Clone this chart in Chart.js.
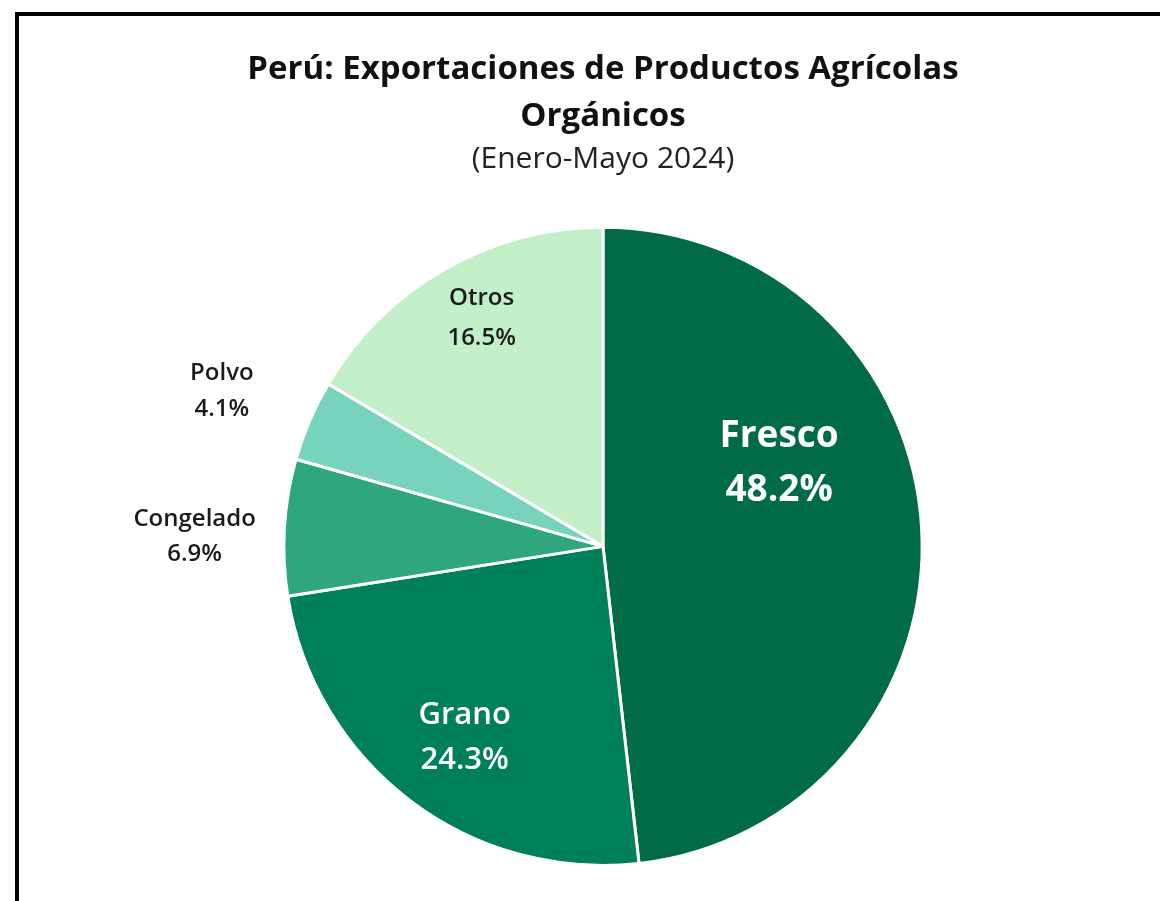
<!DOCTYPE html>
<html>
<head>
<meta charset="utf-8">
<script src="https://cdn.jsdelivr.net/npm/chart.js@4"></script>
<style>
  body { margin: 0; background: #fff; overflow: hidden; }
  #frame { position: absolute; left: 15px; top: 12px; width: 1200px; height: 1000px; border: 4px solid #000; }
  #wrap { position: absolute; left: 0; top: 0; width: 1160px; height: 901px; }
</style>
</head>
<body>
<div id="frame"></div>
<div id="wrap"><canvas id="myChart"></canvas></div>
<script>
// data
var categories = ["Fresco", "Grano", "Congelado", "Polvo", "Otros"];
var shares = [48.2, 24.3, 6.9, 4.1, 16.5];
var sliceColors = ["#006B45", "#00805A", "#2EA77E", "#78D3BC", "#C2EFC8"];

// label placement per slice: [angle shift in degrees, radius fraction, font size, weight, color, line gap]
var labelStyle = [
  [-22, 0.61, 37, "bold", "#ffffff", 54],
  [-1.4, 0.74, 31, "600", "#ffffff", 45],
  [-2, 1.28, 24, "600", "#1a1a1a", 35],
  [-1, 1.29, 24, "600", "#1a1a1a", 36],
  [1.7, 0.81, 24, "600", "#1a1a1a", 40],
];

const sliceLabels = {
  id: "sliceLabels",
  afterDatasetsDraw: function (chart) {
    var ctx = chart.ctx;
    var meta = chart.getDatasetMeta(0);
    meta.data.forEach(function (arc, i) {
      var p = arc.getProps(["x", "y", "startAngle", "endAngle", "outerRadius"], true);
      var st = labelStyle[i];
      var a = (p.startAngle + p.endAngle) / 2 + (st[0] * Math.PI) / 180;
      var r = p.outerRadius * st[1];
      var x = p.x + Math.cos(a) * r;
      var y = p.y + Math.sin(a) * r;
      ctx.save();
      ctx.fillStyle = st[4];
      ctx.font = st[3] + " " + st[2] + "px 'Open Sans'";
      ctx.textAlign = "center";
      ctx.textBaseline = "middle";
      ctx.fillText(categories[i], x, y - st[5] / 2);
      ctx.fillText(shares[i].toFixed(1) + "%", x, y + st[5] / 2);
      ctx.restore();
    });
  },
};

const ctx = document.getElementById("myChart").getContext("2d");
const myChart = new Chart(ctx, {
  type: "pie",
  data: {
    labels: categories,
    datasets: [
      {
        data: shares,
        backgroundColor: sliceColors,
        borderColor: "#ffffff",
        borderWidth: 3,
      },
    ],
  },
  options: {
    responsive: true,
    maintainAspectRatio: false,
    animation: false,
    layout: {
      padding: { left: 46, right: 0, top: 0, bottom: 34 },
    },
    plugins: {
      legend: { display: false },
      tooltip: { enabled: false },
      title: {
        display: true,
        text: ["Perú: Exportaciones de Productos Agrícolas", "Orgánicos"],
        color: "#111",
        font: { family: "'Open Sans'", size: 33, weight: "bold", lineHeight: 1.42 },
        padding: { top: 46, bottom: 3 },
      },
      subtitle: {
        display: true,
        text: "(Enero-Mayo 2024)",
        color: "#222",
        font: { family: "'Open Sans'", size: 30, weight: "normal", lineHeight: 1.1 },
        padding: { top: 0, bottom: 50 },
      },
    },
  },
  plugins: [sliceLabels],
});
</script>
</body>
</html>
